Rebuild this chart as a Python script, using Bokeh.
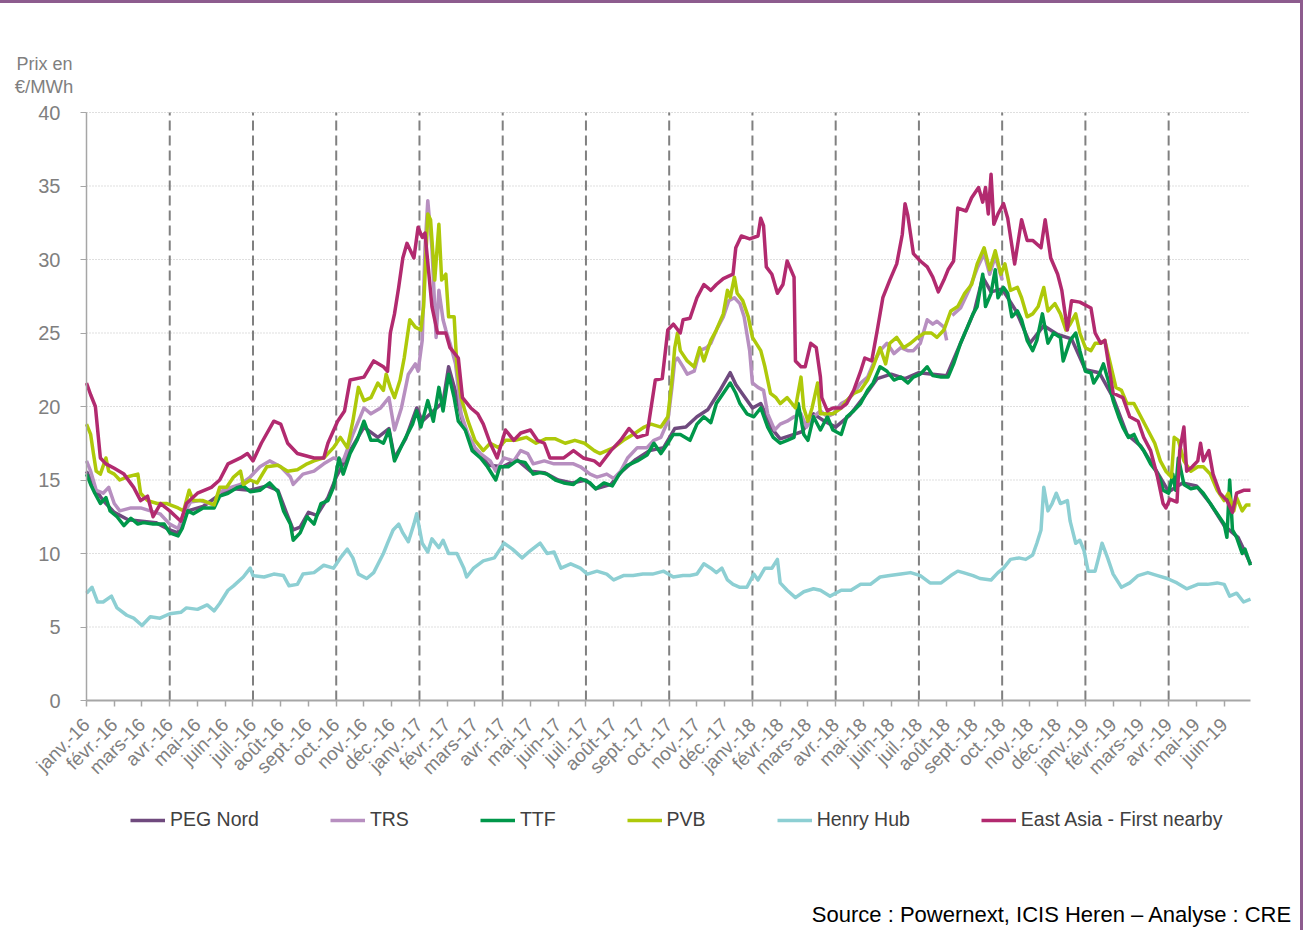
import math
from bokeh.plotting import figure
from bokeh.models import Range1d, FixedTicker, Legend, LegendItem, Label
from bokeh.embed import file_html
from bokeh.resources import INLINE

FONT = "Liberation Sans"

months = ["janv.-16", "févr.-16", "mars-16", "avr.-16", "mai-16", "juin-16", "juil.-16", "août-16",
          "sept.-16", "oct.-16", "nov.-16", "déc.-16",
          "janv.-17", "févr.-17", "mars-17", "avr.-17", "mai-17", "juin-17", "juil.-17", "août-17",
          "sept.-17", "oct.-17", "nov.-17", "déc.-17",
          "janv.-18", "févr.-18", "mars-18", "avr.-18", "mai-18", "juin-18", "juil.-18", "août-18",
          "sept.-18", "oct.-18", "nov.-18", "déc.-18",
          "janv.-19", "févr.-19", "mars-19", "avr.-19", "mai-19", "juin-19"]

# (months since 1 Jan 2016, price in EUR/MWh)
peg_nord = [(0, 15.6), (0.3, 14.4), (0.6, 13.6), (1.0, 12.8), (1.5, 12.3), (2.0, 12.2), (2.5, 12.1), (3.0, 11.6),
            (3.3, 11.4), (3.65, 12.9), (4.2, 13.2), (4.8, 14.0), (5.3, 14.4), (5.9, 14.3), (6.5, 14.6), (6.9, 14.3),
            (7.2, 12.8), (7.45, 11.6), (7.7, 11.8), (8.0, 12.8), (8.3, 12.6), (8.7, 13.8), (9.0, 15.2), (9.5, 17.0),
            (10.0, 18.6), (10.5, 17.9), (10.9, 18.5), (11.1, 16.5), (11.5, 17.8), (11.9, 19.9), (12.1, 19.0),
            (12.5, 19.7), (12.85, 20.3), (13.05, 22.7), (13.3, 21.0), (13.6, 18.6), (14.0, 17.1), (14.5, 16.0),
            (15.0, 15.9), (15.5, 16.4), (16.0, 15.6), (16.5, 15.5), (17.0, 15.0), (17.5, 14.8), (18.0, 15.0),
            (18.35, 14.4), (18.9, 14.7), (19.3, 15.6), (19.8, 16.4), (20.3, 17.0), (20.8, 17.2), (21.2, 18.5),
            (21.6, 18.6), (22.0, 19.3), (22.4, 19.8), (22.8, 21.0), (23.2, 22.3), (23.4, 21.5), (23.7, 20.7),
            (24.0, 19.9), (24.3, 20.2), (24.7, 18.5), (25.0, 17.8), (25.5, 18.1), (25.8, 18.3), (26.2, 19.5),
            (26.6, 19.0), (27.0, 18.6), (27.5, 19.4), (28.0, 20.6), (28.5, 21.9), (29.0, 22.2), (29.5, 21.9),
            (30.0, 22.3), (30.5, 22.2), (31.0, 22.1), (31.5, 24.3), (32.0, 26.5), (32.3, 28.8), (32.6, 27.8),
            (33.0, 28.0), (33.5, 26.5), (34.0, 24.3), (34.5, 25.5), (35.0, 24.9), (35.5, 24.6), (36.0, 22.5),
            (36.5, 22.3), (37.0, 20.6), (37.5, 18.1), (38.0, 17.3), (38.5, 15.8), (39.0, 14.2), (39.5, 14.8),
            (40.0, 14.6), (40.5, 13.4), (41.0, 11.9), (41.5, 11.1), (41.95, 9.3)]

trs = [(0, 16.3), (0.15, 15.6), (0.35, 14.3), (0.6, 14.1), (0.8, 14.5), (1.0, 13.4), (1.2, 12.9), (1.6, 13.1),
       (1.95, 13.1), (2.3, 12.9), (2.65, 12.7), (3.0, 12.0), (3.3, 11.7), (3.5, 12.7), (3.75, 13.5), (4.1, 13.6),
       (4.6, 13.3), (4.8, 14.2), (5.2, 14.5), (5.55, 14.7), (5.9, 15.2), (6.25, 15.9), (6.6, 16.3), (7.0, 15.9),
       (7.35, 15.2), (7.45, 14.7), (7.8, 15.4), (8.2, 15.6), (8.55, 16.1), (8.9, 16.5), (9.25, 16.3), (9.6, 18.1),
       (10.0, 19.9), (10.25, 19.5), (10.6, 19.9), (10.9, 20.6), (11.1, 18.4), (11.35, 19.9), (11.6, 22.2),
       (11.85, 22.9), (11.95, 22.4), (12.1, 24.5), (12.2, 30.8), (12.3, 34.0), (12.45, 30.8), (12.6, 24.7),
       (12.7, 27.9), (12.85, 25.9), (12.95, 25.2), (13.1, 24.3), (13.3, 22.9), (13.5, 19.5), (13.75, 18.1),
       (14.0, 17.2), (14.2, 16.8), (14.55, 16.3), (14.75, 15.6), (15.05, 16.5), (15.4, 16.3), (15.65, 17.0),
       (15.9, 16.8), (16.1, 16.1), (16.5, 16.3), (16.85, 16.1), (17.2, 16.1), (17.55, 16.1), (17.8, 15.9),
       (18.15, 15.4), (18.4, 15.2), (18.75, 15.4), (19.0, 15.1), (19.25, 15.6), (19.5, 16.5), (19.85, 17.2),
       (20.2, 17.2), (20.45, 17.7), (20.7, 17.9), (20.95, 19.0), (21.1, 21.3), (21.2, 23.1), (21.3, 23.3),
       (21.5, 22.7), (21.65, 22.2), (21.9, 22.4), (22.1, 23.8), (22.35, 24.0), (22.5, 24.3), (22.7, 25.2),
       (22.95, 26.1), (23.15, 27.2), (23.35, 27.4), (23.55, 27.0), (23.7, 26.1), (23.9, 23.8), (24.0, 21.6),
       (24.2, 21.3), (24.4, 21.1), (24.55, 19.5), (24.8, 18.4), (25.0, 18.8), (25.25, 19.0), (25.5, 19.3),
       (25.75, 19.5), (25.95, 18.6), (26.2, 19.3), (26.45, 19.7), (26.7, 19.3), (26.9, 19.5), (27.2, 20.2),
       (27.4, 20.4), (27.65, 20.9), (27.9, 21.6), (28.15, 22.0), (28.35, 22.9), (28.6, 23.8), (28.85, 24.3),
       (29.1, 23.6), (29.35, 24.0), (29.6, 23.8), (29.8, 23.8), (30.05, 24.3), (30.3, 25.9), (30.5, 25.6),
       (30.65, 25.8), (30.9, 25.4), (31.0, 24.5), (31.1, None), (31.2, 26.2), (31.5, 26.7), (31.8, 27.9),
       (32.1, 29.4), (32.35, 30.4), (32.55, 29.0), (32.75, 30.2), (33.0, 28.6)]

ttf = [(0, 15.4), (0.15, 14.7), (0.3, 14.1), (0.5, 13.4), (0.7, 13.8), (0.85, 12.9), (1.1, 12.5), (1.35, 11.9),
       (1.6, 12.4), (1.85, 12.0), (2.05, 12.1), (2.4, 12.0), (2.8, 12.0), (3.0, 11.4), (3.3, 11.2), (3.45, 11.7),
       (3.65, 12.9), (3.85, 12.7), (4.2, 13.1), (4.6, 13.1), (4.8, 13.9), (5.1, 14.1), (5.45, 14.5), (5.65, 14.6),
       (5.9, 14.2), (6.25, 14.3), (6.6, 14.8), (6.9, 14.2), (7.1, 12.9), (7.35, 12.0), (7.45, 10.9), (7.7, 11.4),
       (7.95, 12.5), (8.2, 12.0), (8.45, 13.4), (8.7, 13.6), (8.9, 14.5), (9.1, 16.5), (9.25, 15.4), (9.5, 16.8),
       (9.75, 17.7), (10.0, 19.0), (10.25, 17.7), (10.5, 17.7), (10.7, 17.5), (10.9, 18.4), (11.1, 16.3),
       (11.4, 17.5), (11.75, 18.8), (11.9, 19.7), (12.05, 18.6), (12.3, 20.4), (12.5, 19.0), (12.7, 21.3),
       (12.85, 19.7), (13.05, 22.2), (13.25, 20.6), (13.4, 19.0), (13.65, 18.4), (13.9, 17.0), (14.2, 16.5),
       (14.45, 15.9), (14.75, 15.0), (14.9, 15.9), (15.2, 15.9), (15.5, 16.3), (15.8, 16.2), (16.1, 15.4),
       (16.35, 15.5), (16.6, 15.4), (16.9, 15.0), (17.2, 14.8), (17.55, 14.7), (17.8, 15.1), (18.15, 14.8),
       (18.35, 14.4), (18.65, 14.8), (18.95, 14.6), (19.2, 15.4), (19.5, 16.0), (19.85, 16.3), (20.2, 16.7),
       (20.45, 17.5), (20.7, 16.8), (20.95, 17.5), (21.15, 18.1), (21.4, 18.1), (21.75, 17.7), (22.0, 18.8),
       (22.25, 19.3), (22.5, 18.9), (22.7, 20.2), (22.95, 20.9), (23.2, 21.6), (23.4, 20.9), (23.55, 20.2),
       (23.8, 19.5), (24.05, 19.3), (24.3, 19.9), (24.55, 18.6), (24.75, 17.9), (25.0, 17.5), (25.25, 17.7),
       (25.5, 17.9), (25.65, 20.2), (25.85, 18.1), (26.0, 17.7), (26.2, 19.3), (26.45, 18.4), (26.7, 19.3),
       (26.9, 18.4), (27.2, 18.1), (27.4, 19.3), (27.65, 19.7), (27.9, 20.2), (28.15, 21.1), (28.35, 21.6),
       (28.6, 22.7), (28.85, 22.4), (29.1, 21.8), (29.35, 22.0), (29.6, 21.6), (29.8, 22.0), (30.05, 22.2),
       (30.3, 22.7), (30.5, 22.1), (30.8, 22.0), (31.05, 22.0), (31.25, 22.9), (31.5, 24.3), (31.75, 25.4),
       (31.95, 26.3), (32.1, 26.8), (32.3, 29.0), (32.4, 26.8), (32.6, 27.7), (32.75, 29.3), (32.85, 27.4),
       (33.05, 28.1), (33.2, 27.7), (33.35, 26.1), (33.55, 26.5), (33.7, 25.9), (33.9, 24.5), (34.1, 23.8),
       (34.25, 24.5), (34.45, 26.3), (34.65, 24.3), (34.85, 25.0), (35.1, 24.7), (35.2, 23.1), (35.45, 24.5),
       (35.65, 25.0), (35.8, 23.8), (36.0, 22.4), (36.2, 22.3), (36.3, 21.6), (36.5, 22.2), (36.65, 22.9),
       (36.85, 21.6), (37.0, 20.4), (37.2, 19.3), (37.35, 18.6), (37.55, 17.9), (37.75, 18.1), (37.9, 17.5),
       (38.1, 17.0), (38.35, 16.1), (38.55, 15.6), (38.7, 15.0), (38.8, 14.3), (39.0, 14.1), (39.15, 15.4),
       (39.25, 14.3), (39.35, 16.5), (39.55, 14.7), (39.8, 14.4), (40.05, 14.5), (40.25, 14.1), (40.5, 13.4),
       (40.75, 12.7), (41.0, 12.0), (41.1, 11.1), (41.2, 15.0), (41.3, 11.6), (41.45, 11.1), (41.65, 10.0),
       (41.75, 10.3), (41.95, 9.2)]

pvb = [(0, 18.8), (0.15, 18.1), (0.25, 16.8), (0.35, 15.6), (0.5, 15.4), (0.7, 16.5), (0.8, 15.6), (1.0, 15.4),
       (1.2, 15.0), (1.45, 15.2), (1.85, 15.4), (1.95, 14.1), (2.2, 13.6), (2.55, 13.4), (2.9, 13.4), (3.3, 13.1),
       (3.5, 12.9), (3.7, 14.3), (3.85, 13.6), (4.2, 13.6), (4.6, 13.3), (4.8, 14.5), (5.05, 14.5), (5.3, 15.2),
       (5.55, 15.6), (5.65, 14.7), (5.9, 15.0), (6.15, 14.8), (6.5, 15.9), (6.9, 16.0), (7.25, 15.6), (7.6, 15.7),
       (7.95, 16.1), (8.2, 16.3), (8.55, 16.5), (8.9, 17.2), (9.15, 17.9), (9.4, 17.2), (9.6, 19.0), (9.8, 21.3),
       (10.0, 20.4), (10.25, 20.6), (10.5, 21.6), (10.7, 21.1), (10.8, 22.2), (10.95, 21.3), (11.1, 20.6),
       (11.3, 21.8), (11.45, 23.3), (11.65, 25.9), (11.85, 25.4), (12.05, 25.2), (12.15, 26.8), (12.3, 33.1),
       (12.4, 32.7), (12.55, 28.6), (12.7, 32.4), (12.8, 28.6), (12.95, 29.0), (13.05, 26.1), (13.25, 26.1),
       (13.35, 22.7), (13.5, 20.6), (13.75, 19.0), (14.0, 17.7), (14.3, 17.0), (14.55, 17.5), (14.85, 17.2),
       (15.1, 17.7), (15.45, 17.7), (15.85, 17.9), (16.2, 17.5), (16.55, 17.8), (16.9, 17.8), (17.25, 17.5),
       (17.6, 17.7), (17.95, 17.5), (18.3, 17.0), (18.5, 16.8), (18.75, 17.0), (19.0, 17.2), (19.35, 17.7),
       (19.7, 18.1), (20.1, 18.6), (20.35, 18.8), (20.7, 18.6), (20.95, 19.3), (21.1, 21.8), (21.2, 24.0),
       (21.3, 25.0), (21.4, 23.8), (21.65, 23.1), (21.9, 22.7), (22.1, 24.0), (22.25, 23.1), (22.5, 24.5),
       (22.7, 25.2), (22.95, 26.3), (23.1, 27.9), (23.2, 27.4), (23.35, 28.8), (23.45, 27.7), (23.65, 27.2),
       (23.85, 26.1), (24.0, 24.7), (24.3, 23.8), (24.45, 22.7), (24.65, 20.9), (24.85, 20.6), (25.0, 20.2),
       (25.25, 20.6), (25.55, 19.9), (25.75, 22.0), (25.85, 19.9), (26.0, 19.0), (26.15, 19.9), (26.35, 21.6),
       (26.45, 19.5), (26.7, 19.5), (26.9, 19.5), (27.2, 19.9), (27.4, 20.4), (27.65, 20.9), (27.9, 21.1),
       (28.15, 21.8), (28.35, 22.7), (28.6, 24.0), (28.8, 22.9), (28.95, 24.3), (29.2, 24.7), (29.45, 24.0),
       (29.7, 24.3), (29.95, 24.7), (30.2, 25.0), (30.45, 25.0), (30.65, 24.7), (30.9, 25.2), (31.15, 26.5),
       (31.4, 26.8), (31.65, 27.7), (31.9, 28.3), (32.1, 29.7), (32.35, 30.8), (32.55, 29.3), (32.75, 30.6),
       (32.95, 29.0), (33.1, 29.7), (33.3, 27.9), (33.55, 28.1), (33.7, 27.4), (33.9, 26.1), (34.1, 26.3),
       (34.3, 26.8), (34.5, 28.1), (34.65, 26.5), (34.9, 27.0), (35.1, 26.3), (35.3, 25.2), (35.45, 25.6),
       (35.65, 26.3), (35.8, 25.0), (36.0, 24.0), (36.2, 23.8), (36.35, 24.3), (36.55, 24.3), (36.7, 24.5),
       (36.9, 22.9), (37.1, 21.3), (37.3, 21.1), (37.5, 20.2), (37.75, 20.2), (38.0, 19.3), (38.25, 18.4),
       (38.5, 17.5), (38.7, 16.3), (38.9, 15.6), (39.1, 15.2), (39.2, 17.9), (39.35, 17.7), (39.55, 16.3),
       (39.8, 15.6), (40.05, 15.9), (40.25, 15.9), (40.5, 15.4), (40.75, 14.3), (41.0, 13.6), (41.15, 14.1),
       (41.35, 12.9), (41.45, 13.8), (41.65, 12.9), (41.8, 13.3), (41.95, 13.3)]

henry_hub = [(0, 7.3), (0.2, 7.7), (0.4, 6.7), (0.6, 6.7), (0.9, 7.1), (1.1, 6.3), (1.45, 5.8), (1.7, 5.6),
             (2.0, 5.1), (2.3, 5.7), (2.65, 5.6), (3.0, 5.9), (3.4, 6.0), (3.6, 6.3), (4.0, 6.2), (4.35, 6.5),
             (4.6, 6.1), (4.8, 6.6), (5.1, 7.5), (5.3, 7.8), (5.65, 8.4), (5.9, 9.0), (6.0, 8.5), (6.4, 8.4),
             (6.75, 8.6), (7.1, 8.5), (7.3, 7.8), (7.6, 7.9), (7.8, 8.6), (8.2, 8.7), (8.55, 9.2), (8.9, 9.0),
             (9.15, 9.7), (9.4, 10.3), (9.6, 9.7), (9.8, 8.6), (10.1, 8.3), (10.35, 8.7), (10.7, 10.0),
             (10.85, 10.7), (11.05, 11.6), (11.25, 12.0), (11.4, 11.4), (11.6, 10.8), (11.8, 12.0), (11.9, 12.7),
             (12.1, 10.7), (12.3, 10.1), (12.45, 11.0), (12.7, 10.4), (12.85, 10.9), (13.05, 10.0), (13.35, 10.0),
             (13.6, 9.0), (13.7, 8.4), (13.95, 9.0), (14.3, 9.5), (14.7, 9.7), (15.05, 10.7), (15.35, 10.3),
             (15.7, 9.7), (16.0, 10.2), (16.35, 10.7), (16.6, 10.0), (16.85, 10.1), (17.1, 9.0), (17.45, 9.3),
             (17.8, 9.0), (18.05, 8.6), (18.4, 8.8), (18.75, 8.6), (19.0, 8.2), (19.35, 8.5), (19.7, 8.5),
             (20.05, 8.6), (20.4, 8.6), (20.8, 8.8), (21.15, 8.4), (21.5, 8.5), (21.75, 8.5), (22.0, 8.6),
             (22.25, 9.3), (22.5, 9.0), (22.7, 8.7), (22.9, 9.0), (23.1, 8.2), (23.3, 7.9), (23.55, 7.7),
             (23.8, 7.7), (24.05, 8.6), (24.2, 8.2), (24.45, 9.0), (24.7, 9.0), (24.9, 9.6), (25.0, 8.0),
             (25.25, 7.5), (25.55, 7.0), (25.85, 7.4), (26.2, 7.6), (26.45, 7.5), (26.8, 7.1), (27.2, 7.5),
             (27.55, 7.5), (27.9, 7.9), (28.25, 7.9), (28.6, 8.4), (28.95, 8.5), (29.35, 8.6), (29.7, 8.7),
             (30.05, 8.5), (30.4, 8.0), (30.8, 8.0), (31.15, 8.5), (31.4, 8.8), (31.6, 8.7), (31.95, 8.5),
             (32.2, 8.3), (32.6, 8.2), (32.85, 8.7), (33.05, 9.0), (33.3, 9.6), (33.6, 9.7), (33.85, 9.6),
             (34.1, 9.9), (34.25, 10.7), (34.4, 11.6), (34.5, 14.5), (34.65, 12.9), (34.8, 13.4), (34.95, 14.1),
             (35.1, 13.4), (35.35, 13.6), (35.45, 12.2), (35.65, 10.7), (35.8, 10.9), (35.95, 10.2), (36.1, 8.8),
             (36.35, 8.8), (36.5, 9.9), (36.6, 10.7), (36.8, 9.7), (37.0, 8.6), (37.3, 7.7), (37.6, 8.0),
             (37.9, 8.5), (38.25, 8.7), (38.6, 8.5), (38.95, 8.3), (39.3, 8.0), (39.65, 7.6), (40.05, 7.9),
             (40.4, 7.9), (40.75, 8.0), (41.0, 7.9), (41.2, 7.1), (41.45, 7.3), (41.7, 6.7), (41.95, 6.9)]

east_asia = [(0, 21.6), (0.15, 20.8), (0.32, 20.0), (0.5, 16.5), (0.7, 16.1), (1.0, 15.8), (1.35, 15.4), (1.7, 14.5),
             (1.95, 13.6), (2.2, 13.9), (2.4, 12.5), (2.67, 13.4), (3.0, 12.9), (3.4, 12.2), (3.6, 13.4), (4.0, 14.1),
             (4.5, 14.5), (4.8, 15.0), (5.1, 16.1), (5.55, 16.5), (5.8, 16.8), (6.0, 16.3), (6.3, 17.5), (6.75, 19.0),
             (7.0, 18.8), (7.25, 17.5), (7.6, 16.8), (8.2, 16.5), (8.55, 16.5), (8.7, 17.5), (9.05, 19.0),
             (9.3, 19.7), (9.5, 21.8), (10.0, 22.0), (10.35, 23.1), (10.7, 22.7), (10.85, 22.4), (10.95, 25.0),
             (11.1, 26.3), (11.25, 28.1), (11.4, 30.1), (11.55, 31.1), (11.8, 30.1), (11.95, 32.2), (12.1, 31.5),
             (12.2, 31.8), (12.45, 26.8), (12.65, 25.0), (12.95, 25.0), (13.1, 24.0), (13.4, 23.3), (13.55, 20.6),
             (13.85, 19.9), (14.1, 19.5), (14.3, 18.8), (14.55, 17.5), (14.8, 16.5), (15.1, 18.4), (15.4, 17.7),
             (15.65, 18.2), (16.0, 18.4), (16.25, 17.7), (16.5, 17.5), (16.7, 16.5), (17.2, 16.5), (17.55, 17.0),
             (17.9, 16.5), (18.3, 16.3), (18.5, 16.0), (18.9, 17.0), (19.25, 17.7), (19.55, 18.5), (19.85, 17.9),
             (20.2, 18.1), (20.5, 21.8), (20.75, 21.9), (20.95, 25.2), (21.15, 25.6), (21.4, 25.0), (21.5, 25.9),
             (21.75, 26.0), (22.0, 27.4), (22.25, 28.3), (22.5, 27.9), (22.7, 28.3), (22.95, 28.7), (23.3, 29.0),
             (23.4, 30.8), (23.6, 31.6), (23.9, 31.4), (24.2, 31.6), (24.3, 32.8), (24.4, 32.3), (24.5, 29.5),
             (24.7, 29.0), (24.9, 27.7), (25.1, 28.3), (25.25, 29.9), (25.5, 28.8), (25.55, 23.1), (25.75, 22.7),
             (25.9, 22.7), (26.1, 24.3), (26.3, 24.0), (26.45, 22.0), (26.5, 20.6), (26.7, 19.7), (26.9, 19.9),
             (27.2, 19.9), (27.4, 20.2), (27.65, 21.1), (27.9, 22.4), (28.05, 23.3), (28.3, 23.1), (28.5, 25.2),
             (28.7, 27.4), (28.95, 28.6), (29.2, 29.7), (29.4, 31.7), (29.5, 33.8), (29.6, 33.0), (29.8, 30.4),
             (30.05, 29.9), (30.3, 29.5), (30.5, 28.8), (30.7, 27.8), (30.9, 28.6), (31.05, 29.3), (31.25, 29.9),
             (31.4, 33.5), (31.7, 33.3), (31.9, 34.2), (32.15, 34.9), (32.3, 33.9), (32.4, 34.9), (32.5, 33.1),
             (32.6, 35.8), (32.7, 32.4), (32.85, 33.1), (33.05, 33.8), (33.2, 32.8), (33.45, 29.7), (33.7, 32.7),
             (33.9, 31.3), (34.1, 31.3), (34.4, 30.8), (34.55, 32.7), (34.75, 30.1), (35.0, 29.0), (35.15, 27.9),
             (35.35, 25.2), (35.5, 27.2), (35.8, 27.1), (36.2, 26.7), (36.35, 25.0), (36.55, 24.3), (36.7, 24.5),
             (37.0, 20.9), (37.35, 20.6), (37.6, 19.3), (37.9, 19.0), (38.1, 17.9), (38.35, 17.0), (38.6, 15.2),
             (38.8, 13.4), (38.9, 13.1), (39.05, 13.7), (39.3, 13.5), (39.4, 17.0), (39.55, 18.6), (39.65, 15.6),
             (39.85, 15.9), (40.05, 16.3), (40.15, 17.5), (40.25, 16.3), (40.45, 17.0), (40.6, 15.4), (40.85, 14.1),
             (41.1, 13.6), (41.3, 12.8), (41.45, 14.1), (41.7, 14.3), (41.95, 14.3)]

series = [("PEG Nord", peg_nord, "#6F4A7E"),
          ("TRS", trs, "#B78FC0"),
          ("TTF", ttf, "#00974A"),
          ("PVB", pvb, "#AEC90A"),
          ("Henry Hub", henry_hub, "#8DCFD3"),
          ("East Asia - First nearby", east_asia, "#B22A6F")]

y_ticks = [0, 5, 10, 15, 20, 25, 30, 35, 40]
x_end = 41.95  # end of June 2019

# The frame spans the whole canvas so that legend and notes are not clipped;
# the axes are pinned at x=0 / y=0 and bounded to the data area.
W, H = 1303, 930
px_per_month = 1164 / x_end
px_per_unit = 588 / 40.0
x_lo = -86 / px_per_month
x_hi = x_end + (W - 1250) / px_per_month
y_hi = 40 + 109 / px_per_unit
y_lo = -(H - 697) / px_per_unit

p = figure(width=W, height=H, x_range=Range1d(x_lo, x_hi), y_range=Range1d(y_lo, y_hi),
           output_backend="svg", toolbar_location=None, title=None, min_border=0,
           min_border_left=0, min_border_right=0, min_border_top=0, min_border_bottom=0)
p.styles = {"border-top": "3px solid #8D5C8E", "border-right": "3px solid #8D5C8E"}
p.outline_line_color = None
p.background_fill_color = "white"
p.border_fill_color = "white"
p.xgrid.visible = False
p.ygrid.visible = False

# horizontal dotted grid
gy = y_ticks[1:]
p.segment(x0=[0] * len(gy), y0=gy, x1=[x_end] * len(gy), y1=gy,
          line_color="#BFBFBF", line_width=1, line_dash="1 2")

# quarterly dashed separators
q_idx = [i for i in range(1, len(months)) if i % 3 == 0]
p.segment(x0=q_idx, y0=[y_ticks[0]] * len(q_idx), x1=q_idx, y1=[y_ticks[-1]] * len(q_idx),
          line_color="#808080", line_width=2, line_dash="10 5")

# axes
p.xaxis.fixed_location = 0
p.xaxis.bounds = (0, x_end)
p.xaxis.ticker = FixedTicker(ticks=list(range(len(months))))
p.xaxis.major_label_overrides = {i: m for i, m in enumerate(months)}
p.xaxis.major_label_orientation = math.pi / 4
p.xaxis.major_tick_out = 6
p.xaxis.major_tick_in = 0
p.xaxis.minor_tick_line_color = None
p.xaxis.axis_line_color = "#A6A6A6"
p.xaxis.axis_line_width = 2
p.xaxis.major_tick_line_color = "#A6A6A6"
p.xaxis.major_tick_line_width = 1.5
p.xaxis.major_label_text_font = FONT
p.xaxis.major_label_text_font_size = "19px"
p.xaxis.major_label_text_color = "#808080"
p.xaxis.major_label_standoff = 15

p.yaxis.fixed_location = 0
p.yaxis.bounds = (0, 40)
p.yaxis.ticker = FixedTicker(ticks=y_ticks)
p.yaxis.major_tick_out = 6
p.yaxis.major_tick_in = 0
p.yaxis.minor_tick_line_color = None
p.yaxis.axis_line_color = "#A6A6A6"
p.yaxis.axis_line_width = 1.5
p.yaxis.major_tick_line_color = "#A6A6A6"
p.yaxis.major_label_text_font = FONT
p.yaxis.major_label_text_font_size = "20px"
p.yaxis.major_label_text_color = "#7F7F7F"
p.yaxis.major_label_standoff = 20

items = []
for name, data, color in series:
    xs = [d[0] for d in data]
    ys = [float("nan") if d[1] is None else d[1] for d in data]
    r = p.line(xs, ys, line_color=color, line_width=3.5, line_join="round")
    items.append(LegendItem(label=name, renderers=[r]))

legend = Legend(items=items, orientation="horizontal", location=(130, H - 828),
                spacing=71, glyph_width=35, glyph_height=20, label_standoff=5,
                padding=0, margin=0, border_line_color=None, background_fill_alpha=0,
                label_text_font=FONT, label_text_font_size="19.5px", label_text_color="#404040")
p.add_layout(legend)

p.add_layout(Label(x=-1.51, y=43.33, text="Prix en", text_align="center", text_baseline="middle",
                   text_font=FONT, text_font_size="18px", text_color="#7F7F7F"))
p.add_layout(Label(x=-1.53, y=41.77, text="€/MWh", text_align="center", text_baseline="middle",
                   text_font=FONT, text_font_size="18.5px", text_color="#7F7F7F"))
p.add_layout(Label(x=43.46, y=-14.55, text="Source : Powernext, ICIS Heren – Analyse : CRE",
                   text_align="right", text_baseline="middle",
                   text_font=FONT, text_font_size="22px", text_color="#000000"))

open("out.html", "w").write(file_html(p, INLINE))
